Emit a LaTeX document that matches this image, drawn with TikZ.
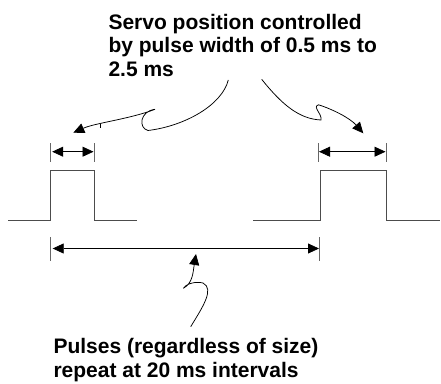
\documentclass[tikz,border=0pt]{standalone}
\usepackage{fontspec}
\setmainfont{Liberation Sans}
\usepackage{tikz}
\usetikzlibrary{arrows.meta}

\begin{document}
\begin{tikzpicture}[x=1pt,y=-1pt,>={Triangle[length=11pt,width=10pt]},
    signal/.style={draw=black!70, line width=0.9pt},
    dimtick/.style={draw=black!60, line width=0.8pt},
    dimarrow/.style={<->, line width=0.8pt},
    callout/.style={->, line width=0.75pt},
    notetext/.style={font=\bfseries\fontsize{21}{23.8}\selectfont, align=left,
        inner sep=0pt, anchor=north west}]
    \useasboundingbox (0,0) rectangle (441,383);

    % 参数
    \def\yb{220.7} % 基线
    \def\yt{170.7} % 脉冲顶
    \def\yd{151.7} % 脉宽标注
    \def\yp{248.5} % 周期标注

    % 关键点
    \coordinate (A1) at (50.7,\yd);
    \coordinate (B1) at (94,\yd);
    \coordinate (A2) at (318,\yd);
    \coordinate (B2) at (386,\yd);
    \coordinate (P1) at (50.7,\yp);
    \coordinate (P2) at (319.5,\yp);

    % 脉冲波形
    \draw[signal] (8.3,\yb) -- (50.7,\yb) -- (50.7,\yt) -- (94,\yt) -- (94,\yb) -- (136.7,\yb);
    \draw[signal] (253.3,\yb) -- (320,\yb) -- (320,\yt) -- (386,\yt) -- (386,\yb) -- (440,\yb);

    % 脉宽标注
    \foreach \p in {A1,B1,A2,B2}
        \draw[dimtick] ([yshift=-10pt]\p) -- ([yshift=8.5pt]\p);
    \draw[dimarrow, shorten <=1.5pt, shorten >=0.5pt] (A1) -- (B1);
    \draw[dimarrow, shorten <=1pt, shorten >=0.5pt] (A2) -- (B2);

    % 周期标注
    \foreach \p in {P1,P2}
        \draw[dimtick] ([yshift=-12pt]\p) -- ([yshift=11.5pt]\p);
    \draw[dimarrow, shorten <=2pt, shorten >=0.5pt] (P1) -- (P2);

    % 文字
    \node[notetext] (servo) at (108.3,13.6)
        {Servo position controlled\\by pulse width of 0.5 ms to\\2.5 ms};
    \node[notetext] (repeat) at (53.3,338)
        {Pulses (regardless of size)\\repeat at 20 ms intervals};

    % 指向脉宽的曲线箭头
    \coordinate (sL) at (228.3,80);
    \coordinate (sR) at (261.7,79.3);
    \coordinate (tL) at (73.3,132.7);
    \coordinate (tR) at (363.3,133.3);
    \draw[callout] (sL) .. controls (222,105) and (185,126) .. (148,130.5)
        .. controls (138,128) and (140,111) .. (155,109.3)
        .. controls (130,119) and (95,123) .. (tL);
    \draw[line width=0.7pt] (100.7,123.6) -- (100.7,127.6);
    \draw[callout] (sR) .. controls (283,106) and (300,119) .. (321,120)
        .. controls (322,113) and (312,107) .. (318.5,104.8)
        .. controls (332,109) and (350,118) .. (tR);

    % 指向周期的曲线箭头
    \coordinate (sB) at (190.7,326.7);
    \coordinate (tB) at (196,254);
    \draw[callout] (sB) .. controls (202,308) and (215,289) .. (203,283)
        .. controls (195,281) and (186,284) .. (183.3,288.3)
        .. controls (193,283) and (193,272) .. (tB);

\end{tikzpicture}
\end{document}
